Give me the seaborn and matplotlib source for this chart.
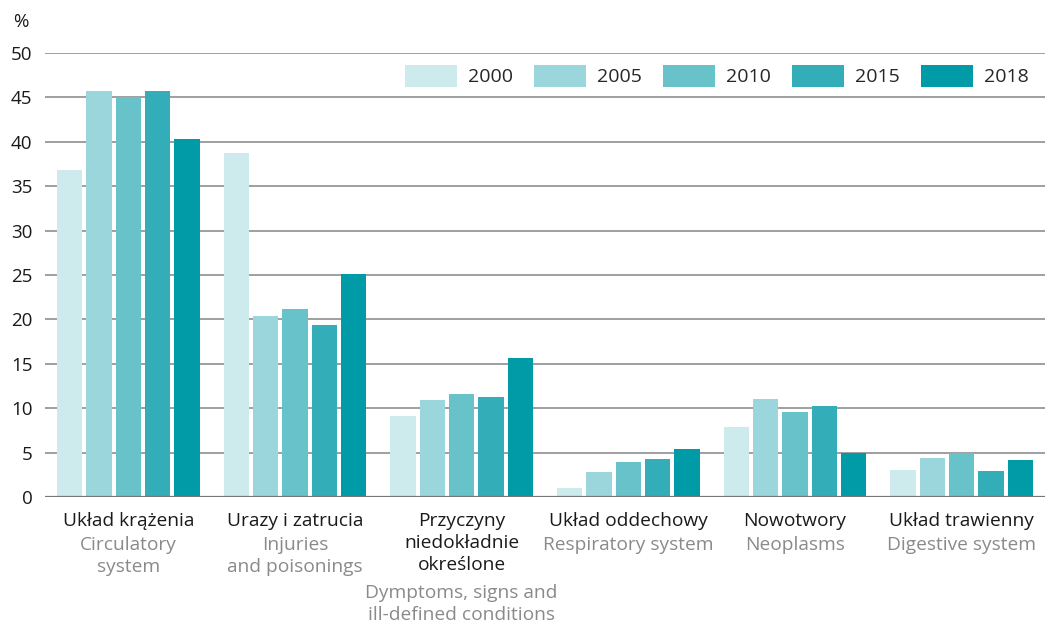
import matplotlib.pyplot as plt
import seaborn as sns
import numpy as np
import pandas as pd

sns.set_style("white")
plt.rcParams['font.family'] = ['Open Sans', 'DejaVu Sans']

# dane
categories_pl = ["Układ krążenia", "Urazy i zatrucia", "Przyczyny\nniedokładnie\nokreślone",
                 "Układ oddechowy", "Nowotwory", "Układ trawienny"]
categories_en = ["Circulatory\nsystem", "Injuries\nand poisonings",
                 "Dymptoms, signs and\nill-defined conditions",
                 "Respiratory system", "Neoplasms", "Digestive system"]
years = ["2000", "2005", "2010", "2015", "2018"]
v2000 = [36.8, 38.7, 9.1, 1.0, 7.9, 3.0]
v2005 = [45.7, 20.4, 10.9, 2.8, 11.0, 4.4]
v2010 = [45.0, 21.2, 11.6, 3.9, 9.6, 4.95]
v2015 = [45.7, 19.4, 11.3, 4.3, 10.2, 2.9]
v2018 = [40.3, 25.1, 15.6, 5.4, 4.95, 4.2]
colors = ["#cdeaec", "#9bd6dd", "#67c2c9", "#33adb8", "#009ba6"]

df = pd.DataFrame({
    "cat": categories_pl * 5,
    "year": np.repeat(years, 6),
    "val": v2000 + v2005 + v2010 + v2015 + v2018,
})

fig = plt.figure(figsize=(10.45, 6.25), dpi=100)
ax = fig.add_axes([45/1045, 1 - 497/625, 1 - 45/1045, 444/625])

sns.barplot(data=df, x="cat", y="val", hue="year", hue_order=years,
            palette=colors, width=0.88, gap=0.14, saturation=1,
            linewidth=0, ax=ax)

ax.set_ylim(0, 50)
ax.set_xlim(-0.5, 5.5)
ax.set_yticks(range(0, 51, 5))
ax.yaxis.grid(True, color="#8f8f8f", linewidth=1.2)
ax.set_axisbelow(True)
for s in ax.spines.values():
    s.set_visible(False)
ax.axhline(0, color="#777777", linewidth=1.6, zorder=3)
ax.tick_params(axis="y", length=0, pad=9, labelsize=13.5, labelcolor="#1a1a1a")
ax.set_xticks(range(6))
ax.set_xticklabels([])
ax.tick_params(axis="x", length=0)
ax.set_xlabel("")
ax.set_ylabel("")

fig.text(13/1045, 1 - 22/625, "%", fontsize=13.5, color="#1a1a1a", va="center")

# podpisy kategorii
for i, (pl, en) in enumerate(zip(categories_pl, categories_en)):
    n = pl.count("\n") + 1
    ax.annotate(pl, xy=(i, 0), xycoords=("data", "axes fraction"),
                xytext=(0, -15), textcoords="offset pixels",
                ha="center", va="top", fontsize=13.8, color="#1a1a1a", linespacing=1.28)
    ax.annotate(en, xy=(i, 0), xycoords=("data", "axes fraction"),
                xytext=(0, -15 - 24 * n), textcoords="offset pixels",
                ha="center", va="top", fontsize=13.8, color="#8a8a8a", linespacing=1.28)

handles, labels = ax.get_legend_handles_labels()
ax.legend(handles, labels, ncol=5, loc="center right", frameon=False,
          bbox_to_anchor=(1029/1045, 1 - 76/625), bbox_transform=fig.transFigure,
          fontsize=14, handlelength=2.68, handleheight=1.39, handletextpad=0.57,
          columnspacing=1.08, borderpad=0, borderaxespad=0)

fig.savefig("out.png", dpi=100)
